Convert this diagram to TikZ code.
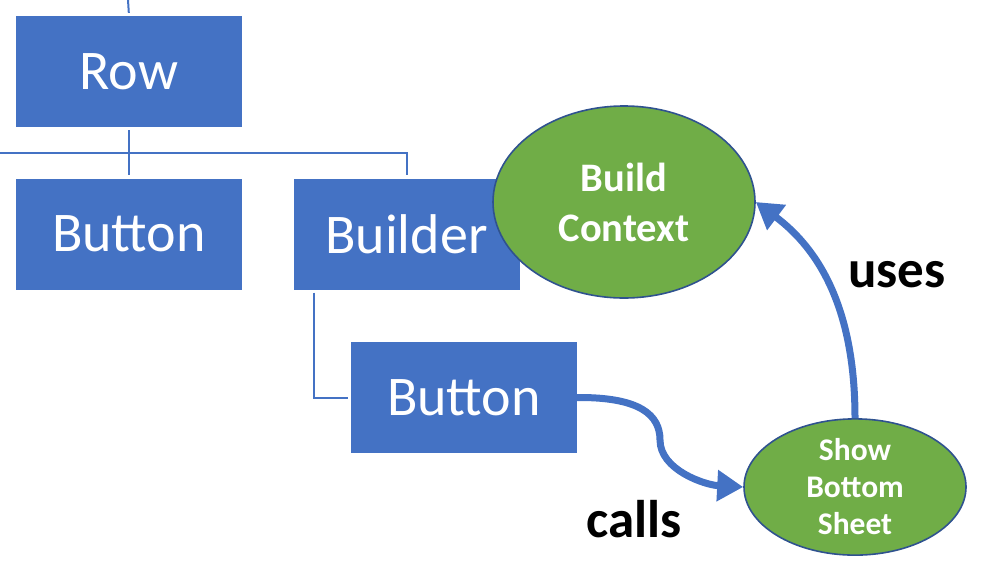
\documentclass[tikz,border=0pt]{standalone}
\usepackage{fontspec}
\setmainfont{Carlito}
\usetikzlibrary{arrows.meta, shapes.geometric}

\definecolor{boxblue}{HTML}{4472C4}
\definecolor{leafgreen}{HTML}{70AD47}
\definecolor{rimblue}{HTML}{2F528F}

\tikzset{
  widget/.style={fill=boxblue, text=white, minimum width=226pt, minimum height=111pt,
    inner sep=0pt, font=\fontsize{56}{60}\selectfont},
  treeline/.style={draw=boxblue, line width=2pt, shorten <=3pt, shorten >=3pt},
  bubble/.style={ellipse, fill=leafgreen, draw=rimblue, line width=1.6pt, text=white,
    align=center, inner sep=0pt},
  flow/.style={draw=boxblue, line width=7pt, -{Triangle[length=26pt, width=30pt]}},
  verb/.style={font=\bfseries\fontsize{53}{58}\selectfont, inner sep=0pt}
}

\begin{document}
\begin{tikzpicture}[x=1pt, y=-1pt]
\useasboundingbox (0,0) rectangle (981,566);

% widget tree
\node[widget] (row)     at (129, 71.5)  {Row};
\node[widget] (btnA)    at (129, 234)   {Button};
\node[widget] (builder) at (406.5, 234) {Builder};
\node[widget] (btnB)    at (464, 397.5) {Button};

\coordinate (top) at (128, 0);
\coordinate (bus) at (0, 153);

\draw[treeline, shorten <=0pt] (top) -- (row.north);
\draw[treeline] (row.south) -- (btnA.north);
\draw[treeline, shorten <=0pt] (bus) -| (builder.north);
\draw[treeline] ([xshift=21pt]builder.south west) |- (btnB.west);

% context and sheet
\node[bubble, minimum width=262pt, minimum height=192pt,
      font=\bfseries\fontsize{40.5}{50}\selectfont] (ctx) at (624, 202) {Build\\Context};
\node[bubble, minimum width=222pt, minimum height=130pt,
      font=\bfseries\fontsize{31.5}{37}\selectfont] (sheet) at (855, 487) {Show\\Bottom\\Sheet};

\draw[flow] (btnB.east) .. controls (640, 397) and (660, 415) .. (660, 440)
                        .. controls (660, 470) and (705, 485) .. (sheet.west);
\draw[flow] (sheet.north) .. controls (855, 310) and (820, 250) .. (ctx.east);

\node[verb] (uses)  at (897, 275) {uses};
\node[verb] (calls) at (634, 519) {calls};

\end{tikzpicture}
\end{document}
